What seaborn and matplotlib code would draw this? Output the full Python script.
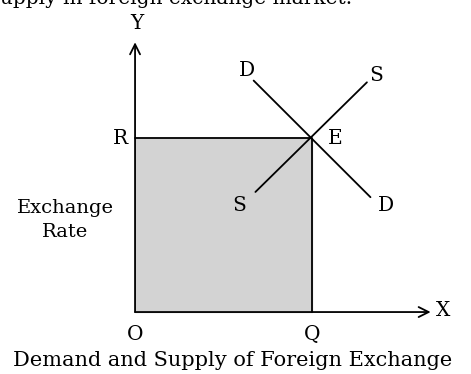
import matplotlib
matplotlib.use("Agg")
import pandas as pd
import seaborn as sns
from matplotlib import pyplot as plt

# equilibrium quantity / exchange rate
eq_q = 10
eq_r = 10

# demand and supply curve end points (quantity, rate)
demand_q = [6.7, 13.3]
demand_r = [13.3, 6.6]
supply_q = [6.8, 13.1]
supply_r = [6.9, 13.2]

x_axis_end = 16.7
y_axis_end = 15.5

sns.set_theme(style="white")
plt.rcParams['font.family'] = ['DejaVu Serif']
plt.rcParams['text.color'] = 'black'

fig = plt.figure(figsize=(4.71, 3.74), dpi=100)
ax = fig.add_axes([0, 0, 1, 1])
ax.set_xlim(-7.63, 18.98)
ax.set_ylim(-3.56, 17.93)
ax.axis("off")

curves = pd.DataFrame({
    "q": demand_q + supply_q,
    "r": demand_r + supply_r,
    "curve": ["D", "D", "S", "S"],
})

# shaded area under the equilibrium point
ax.fill_between([0, eq_q], 0, eq_r, color="#d3d3d3", zorder=1)
ax.plot([0, eq_q, eq_q], [eq_r, eq_r, 0], color="black", lw=1.3, zorder=2)

sns.lineplot(data=curves, x="q", y="r", units="curve", estimator=None,
             sort=False, color="black", lw=1.3, ax=ax, zorder=3)

# axes with open arrow heads
arrow = dict(arrowstyle="->", color="black", lw=1.3, mutation_scale=18,
             shrinkA=0, shrinkB=0)
ax.annotate("", xy=(0, y_axis_end), xytext=(0, 0), arrowprops=arrow)
ax.annotate("", xy=(x_axis_end, 0), xytext=(0, 0), arrowprops=arrow)

fs = 14.5
ax.text(0.1, 16.6, "Y", fontsize=fs, ha="center", va="center")
ax.text(17.4, 0.1, "X", fontsize=fs, ha="center", va="center")
ax.text(0, -1.3, "O", fontsize=fs, ha="center", va="center")
ax.text(eq_q, -1.3, "Q", fontsize=fs, ha="center", va="center")
ax.text(-0.8, eq_r, "R", fontsize=fs, ha="center", va="center")
ax.text(11.3, eq_r, "E", fontsize=fs, ha="center", va="center")
ax.text(6.3, 13.9, "D", fontsize=fs, ha="center", va="center")
ax.text(14.2, 6.1, "D", fontsize=fs, ha="center", va="center")
ax.text(13.6, 13.6, "S", fontsize=fs, ha="center", va="center")
ax.text(5.9, 6.1, "S", fontsize=fs, ha="center", va="center")
ax.text(-3.95, 5.3, "Exchange\nRate", fontsize=14, ha="center",
        va="center", linespacing=1.4)
ax.text(5.5, -2.76, "Demand and Supply of Foreign Exchange", fontsize=15,
        ha="center", va="center")

# caption line cut by the top edge of the crop, only its lower part shows
fig.text(0.0, 0.99, "upply in foreign exchange market.", fontsize=fs,
         ha="left", va="baseline")

fig.savefig("out.png", dpi=100)
